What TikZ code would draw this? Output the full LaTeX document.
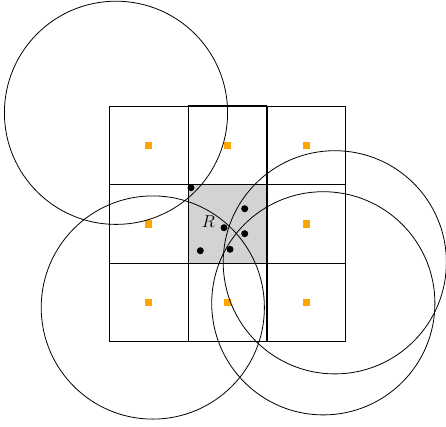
\documentclass[tikz,border=0pt]{standalone}
\definecolor{sq}{RGB}{255,165,0}
\definecolor{cellgray}{RGB}{211,211,211}
\tikzset{
  gridline/.style={line width=1pt},
  thickgrid/.style={line width=1.2pt},
  ring/.style={line width=0.8pt},
  marker/.style={fill=sq},
  pt/.style={fill=black}
}
\begin{document}
\begin{tikzpicture}[x=1pt,y=-1pt]
\useasboundingbox (0,0) rectangle (446,426);
% grey cell
\fill[cellgray] (188.3,184.3) rectangle (267,263.3);
% grid
\foreach \i in {0,1,2} \foreach \j in {0,1,2} {
  \draw[gridline] ({109.3+78.8*\i},{106+78.6*\j}) rectangle ++(78.8,78.6);
}
\draw[thickgrid] (188.3,106) -- (188.3,341.7);
\draw[thickgrid] (267,106) -- (267,341.7);
\draw[thickgrid] (188.3,106) -- (267,106);
% orange markers (not in the centre cell)
\foreach \i/\j in {0/0,1/0,2/0,0/1,2/1,0/2,1/2,2/2} {
  \fill[marker] ({148.7+78.8*\i-3.6},{145.3+78.6*\j-3.6}) rectangle ++(7.2,7.2);
}
% circles
\draw[ring] (116,112.8) circle (111.6);
\draw[ring] (152.8,307.5) circle (111.6);
\draw[ring] (334.8,262.3) circle (111.6);
\draw[ring] (323.3,303.3) circle (111.6);
% points
\foreach \p in {(191,187.7),(244.7,208.7),(224,227.7),(244.7,233.7),(230,249.3),(200.3,250.7)}
  \fill[pt] \p circle (3.5);
% label
\node (R) at (208.3,221.5) {\fontsize{17}{20}\selectfont $R$};
\end{tikzpicture}
\end{document}
